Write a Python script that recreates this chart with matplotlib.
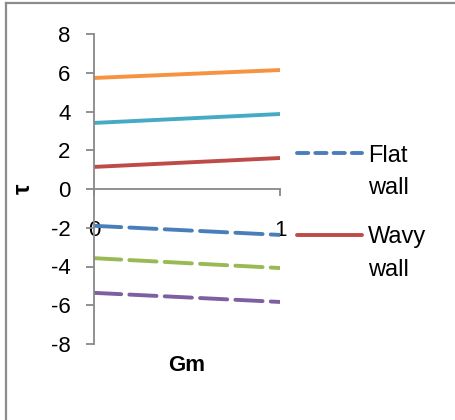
import matplotlib
matplotlib.use("Agg")
import matplotlib.pyplot as plt
from matplotlib.lines import Line2D
import numpy as np

# data
gm = [0, 1]
tick_labels = ["0", "1"]
flat_blue = [-1.9, -2.37]
flat_green = [-3.57, -4.08]
flat_purple = [-5.36, -5.83]
wavy_red = [1.14, 1.6]
wavy_teal = [3.41, 3.87]
wavy_orange = [5.73, 6.14]
legend_labels = ["Flat\nwall", "Wavy\nwall"]

BLUE = "#4A7EBB"
RED = "#BE4B48"
GREEN = "#98B954"
PURPLE = "#7D60A0"
TEAL = "#46AAC5"
ORANGE = "#F69240"
AXIS = "#888888"

plt.rcParams["font.family"] = ["Liberation Sans", "DejaVu Sans"]
plt.rcParams["axes.unicode_minus"] = False

fig = plt.figure(figsize=(4.55, 4.2), dpi=100)
ax = fig.add_axes([94 / 455, 76 / 420, 186 / 455, 310 / 420])

lw = 2.8
dash = (7, 2.1)
ax.plot(gm, flat_blue, color=BLUE, lw=lw, dashes=dash, dash_capstyle="round", label=legend_labels[0])
ax.plot(gm, wavy_red, color=RED, lw=lw, solid_capstyle="butt", label=legend_labels[1])
ax.plot(gm, flat_green, color=GREEN, lw=lw, dashes=dash, dash_capstyle="round")
ax.plot(gm, wavy_teal, color=TEAL, lw=lw, solid_capstyle="butt")
ax.plot(gm, flat_purple, color=PURPLE, lw=lw, dashes=dash, dash_capstyle="round")
ax.plot(gm, wavy_orange, color=ORANGE, lw=lw, solid_capstyle="butt")

ax.set_xlim(0, 1)
ax.set_ylim(-8, 8)
ax.set_yticks(np.arange(-8, 9, 2))
ax.set_xticks(gm)
ax.set_xticklabels(tick_labels)

for side in ("top", "right"):
    ax.spines[side].set_visible(False)
ax.spines["bottom"].set_position(("data", 0))
ax.spines["left"].set_color(AXIS)
ax.spines["bottom"].set_color(AXIS)
ax.spines["left"].set_linewidth(1.3)
ax.spines["bottom"].set_linewidth(1.3)
ax.tick_params(axis="y", length=6, width=1.3, color=AXIS, labelsize=16, pad=11)
ax.tick_params(axis="x", length=5, width=1.3, color=AXIS, labelsize=16, pad=17)

ax.set_ylabel("τ", fontsize=17, fontweight="bold", rotation=90)
ax.yaxis.set_label_coords(-0.32, 0.5)
ax.set_xlabel("Gm", fontsize=16, fontweight="bold")
ax.xaxis.set_label_coords(0.5, -0.035)

leg_handles = [
    Line2D([], [], color=BLUE, lw=lw, dashes=(2.9, 1.8), dash_capstyle="round"),
    Line2D([], [], color=RED, lw=lw, solid_capstyle="round"),
]
leg = ax.legend(leg_handles, legend_labels, loc="upper left", bbox_to_anchor=(297 / 455, 1 - 145 / 420),
                bbox_transform=fig.transFigure, frameon=False, fontsize=17,
                handlelength=2.75, handletextpad=0.25, labelspacing=1.15, borderpad=0, borderaxespad=0)
for t in leg.get_texts():
    t.set_linespacing(1.6)
for col in leg._legend_handle_box.get_children():
    for row in col.get_children():
        row.align = "top"

# chart-area frame (left and top edges only)
fig.add_artist(Line2D([6 / 455, 6 / 455], [0, 1 - 3 / 420], transform=fig.transFigure, color="#8C8C8C", lw=1.6))
fig.add_artist(Line2D([6 / 455, 1], [1 - 3 / 420, 1 - 3 / 420], transform=fig.transFigure, color="#8C8C8C", lw=1.6))

fig.savefig("out.png", dpi=100)
